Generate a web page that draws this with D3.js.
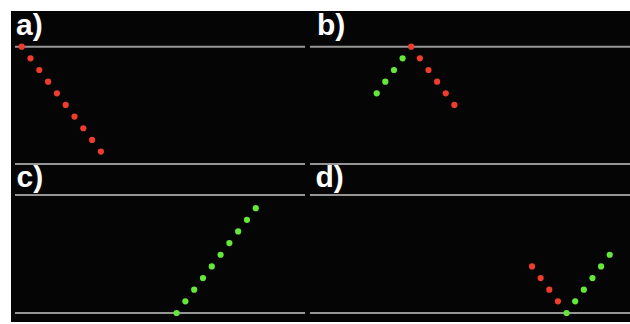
<!DOCTYPE html>
<html><head><meta charset="utf-8">
<script src="https://cdn.jsdelivr.net/npm/d3@7/dist/d3.min.js"></script>
<style>html,body{margin:0;padding:0;background:#fff;}svg{display:block;}</style>
</head><body>
<script>
// Panel labels
const panelLabels = ["a)", "b)", "c)", "d)"];
// Panel a: red (falling) series
const aRedT = [1, 2, 3, 4, 5, 6, 7, 8, 9, 10];
const aRedV = [0, -1, -2, -3, -4, -5, -6, -7, -8, -9];
// Panel b: green (rising) then red (falling)
const bGreenT = [7, 8, 9, 10];
const bGreenV = [-4, -3, -2, -1];
const bRedT = [11, 12, 13, 14, 15, 16];
const bRedV = [0, -1, -2, -3, -4, -5];
// Panel c: green (rising)
const cGreenT = [18.6, 19.6, 20.6, 21.6, 22.6, 23.6, 24.6, 25.6, 26.6, 27.6];
const cGreenV = [0, 1, 2, 3, 4, 5, 6, 7, 8, 9];
// Panel d: red (falling) then green (rising)
const dRedT = [25, 26, 27, 28];
const dRedV = [4, 3, 2, 1];
const dGreenT = [29, 30, 31, 32, 33, 34];
const dGreenV = [0, 1, 2, 3, 4, 5];

const W = 630, H = 324;
const RED = "#ef3d2d", GREEN = "#66e83a", GRID = "#969696";

const svg = d3.select("body").append("svg").attr("width", W).attr("height", H);
svg.append("rect").attr("x", 11).attr("y", 11).attr("width", W - 11).attr("height", 311).attr("fill", "#050505");

// scales
const xLeft = d3.scaleLinear().domain([0, 33]).range([12.9, 12.9 + 33 * 8.8]);
const xRight = d3.scaleLinear().domain([0, 36]).range([316.3, 316.3 + 36 * 8.63]);
const yTop = d3.scaleLinear().domain([-10, 0]).range([46.7 + 10 * 11.65, 46.7]);
const yBot = d3.scaleLinear().domain([0, 10]).range([313, 313 - 10 * 11.65]);

// frame lines
const leftSpan = [15, 305], rightSpan = [310, 630];
const hLines = [46.7, 164, 195, 313];
[leftSpan, rightSpan].forEach(s => {
  hLines.forEach(y => {
    svg.append("line").attr("x1", s[0]).attr("x2", s[1]).attr("y1", y).attr("y2", y)
      .attr("stroke", GRID).attr("stroke-width", 2);
  });
});

// labels
const labelPos = [[16, 35], [317, 35], [16.5, 187], [315.5, 187]];
panelLabels.forEach((t, i) => {
  svg.append("text").attr("x", labelPos[i][0]).attr("y", labelPos[i][1])
    .attr("fill", "#fff").attr("font-family", "Liberation Sans, Arial, sans-serif")
    .attr("font-weight", "bold").attr("font-size", 30).text(t);
});

function dots(T, V, xs, ys, color) {
  const data = T.map((t, i) => ({t, v: V[i]}));
  svg.append("g").selectAll("circle").data(data).join("circle")
    .attr("cx", d => xs(d.t)).attr("cy", d => ys(d.v)).attr("r", 3.1)
    .attr("fill", color);
}
dots(aRedT, aRedV, xLeft, yTop, RED);
dots(bGreenT, bGreenV, xRight, yTop, GREEN);
dots(bRedT, bRedV, xRight, yTop, RED);
dots(cGreenT, cGreenV, xLeft, yBot, GREEN);
dots(dRedT, dRedV, xRight, yBot, RED);
dots(dGreenT, dGreenV, xRight, yBot, GREEN);
</script>
</body></html>
